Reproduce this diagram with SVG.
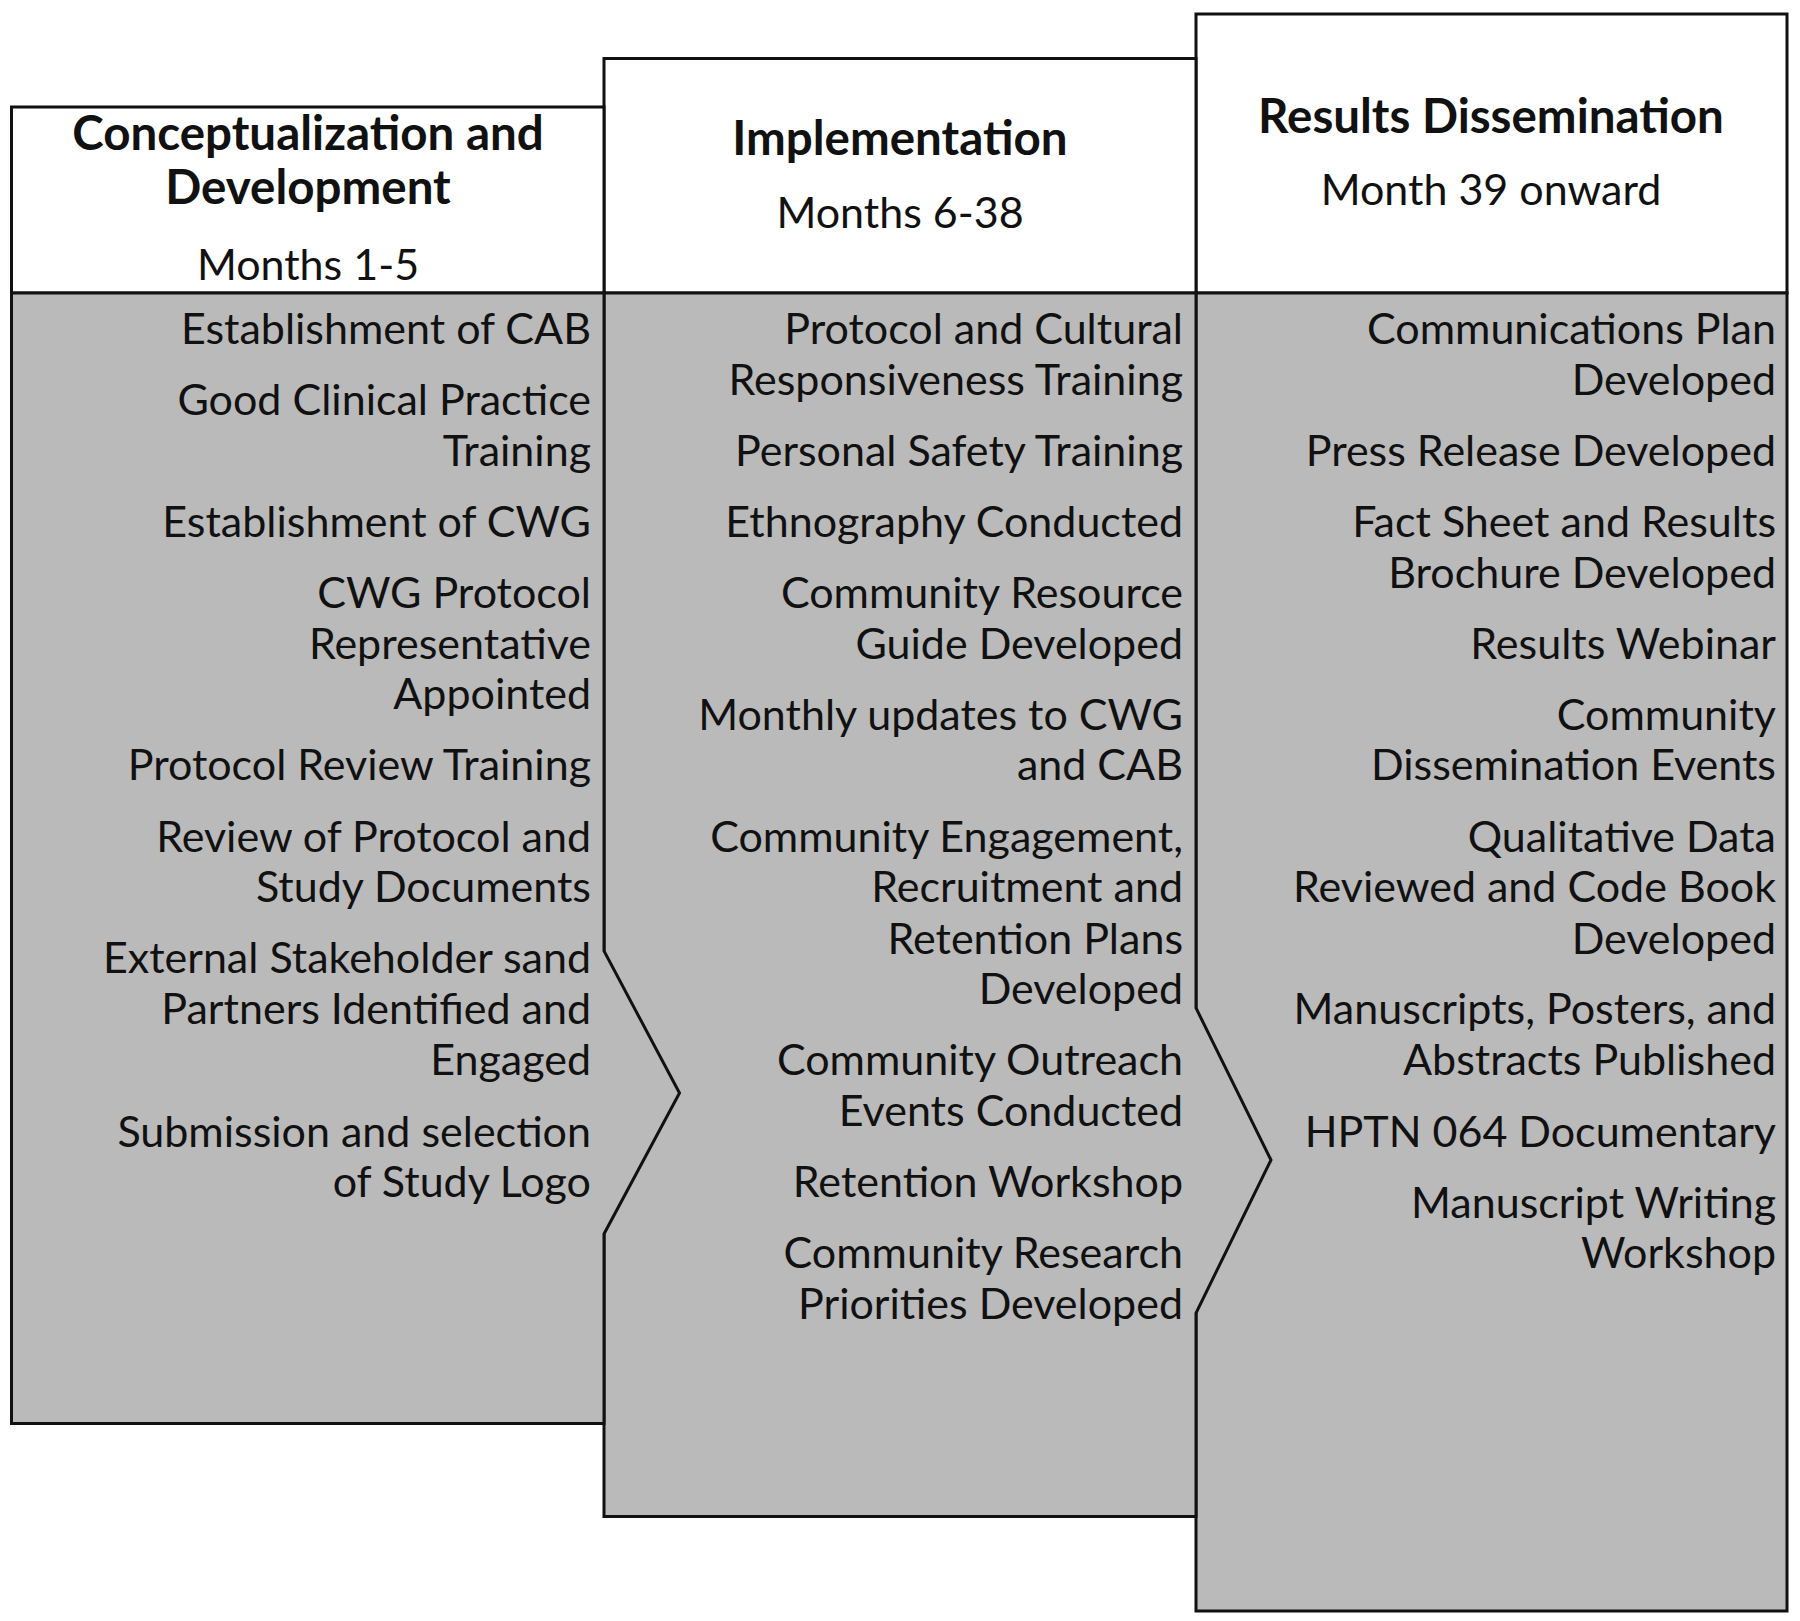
<svg xmlns="http://www.w3.org/2000/svg" width="1800" height="1621" viewBox="0 0 1800 1621">
<style>
.hdr{fill:#ffffff;stroke:#111;stroke-width:3}
.body{fill:#bababa;stroke:#111;stroke-width:3;stroke-linejoin:miter}
.t{font-family:Lato,"Open Sans",sans-serif;font-size:43px;fill:#111;text-anchor:end}
.h{font-family:Lato,"Open Sans",sans-serif;font-size:47.5px;font-weight:bold;fill:#111;text-anchor:middle}
.s{font-family:Lato,"Open Sans",sans-serif;font-size:43px;fill:#111;text-anchor:middle}
</style>
<rect x="0" y="0" width="1800" height="1621" fill="#ffffff"/>
<g id="col3">
<rect class="hdr" x="1196" y="14" width="591" height="279"/>
<rect class="body" x="1196" y="293" width="591" height="1318"/>
<text class="h" x="1491" y="133">Results Dissemination</text>
<text class="s" x="1491" y="205">Month 39 onward</text>
<text class="t" x="1776" y="344">Communications Plan</text>
<text class="t" x="1776" y="395">Developed</text>
<text class="t" x="1776" y="466">Press Release Developed</text>
<text class="t" x="1776" y="537">Fact Sheet and Results</text>
<text class="t" x="1776" y="588">Brochure Developed</text>
<text class="t" x="1776" y="659">Results Webinar</text>
<text class="t" x="1776" y="730">Community</text>
<text class="t" x="1776" y="780">Dissemination Events</text>
<text class="t" x="1776" y="852">Qualitative Data</text>
<text class="t" x="1776" y="902">Reviewed and Code Book</text>
<text class="t" x="1776" y="954">Developed</text>
<text class="t" x="1776" y="1024">Manuscripts, Posters, and</text>
<text class="t" x="1776" y="1075">Abstracts Published</text>
<text class="t" x="1776" y="1147">HPTN 064 Documentary</text>
<text class="t" x="1776" y="1218">Manuscript Writing</text>
<text class="t" x="1776" y="1268">Workshop</text>
</g>
<g id="col2">
<rect class="hdr" x="604" y="58.5" width="592" height="234.5"/>
<path class="body" d="M604,293 H1196 V1008 L1271,1160 L1196,1313 V1516.5 H604 Z"/>
<text class="h" x="900" y="155">Implementation</text>
<text class="s" x="900" y="228">Months 6-38</text>
<text class="t" x="1183" y="344">Protocol and Cultural</text>
<text class="t" x="1183" y="395">Responsiveness Training</text>
<text class="t" x="1183" y="466">Personal Safety Training</text>
<text class="t" x="1183" y="537">Ethnography Conducted</text>
<text class="t" x="1183" y="608">Community Resource</text>
<text class="t" x="1183" y="659">Guide Developed</text>
<text class="t" x="1183" y="730">Monthly updates to CWG</text>
<text class="t" x="1183" y="780">and CAB</text>
<text class="t" x="1183" y="852">Community Engagement,</text>
<text class="t" x="1183" y="902">Recruitment and</text>
<text class="t" x="1183" y="954">Retention Plans</text>
<text class="t" x="1183" y="1004">Developed</text>
<text class="t" x="1183" y="1075">Community Outreach</text>
<text class="t" x="1183" y="1126">Events Conducted</text>
<text class="t" x="1183" y="1197">Retention Workshop</text>
<text class="t" x="1183" y="1268">Community Research</text>
<text class="t" x="1183" y="1319">Priorities Developed</text>
</g>
<g id="col1">
<rect class="hdr" x="11.5" y="107" width="592.5" height="186"/>
<path class="body" d="M11.5,293 H604 V951 L679.5,1093 L604,1234 V1423.5 H11.5 Z"/>
<text class="h" x="308" y="150">Conceptualization and</text>
<text class="h" x="308" y="204">Development</text>
<text class="s" x="308" y="280">Months 1-5</text>
<text class="t" x="591" y="344">Establishment of CAB</text>
<text class="t" x="591" y="415">Good Clinical Practice</text>
<text class="t" x="591" y="466">Training</text>
<text class="t" x="591" y="537">Establishment of CWG</text>
<text class="t" x="591" y="608">CWG Protocol</text>
<text class="t" x="591" y="659">Representative</text>
<text class="t" x="591" y="709">Appointed</text>
<text class="t" x="591" y="780">Protocol Review Training</text>
<text class="t" x="591" y="852">Review of Protocol and</text>
<text class="t" x="591" y="902">Study Documents</text>
<text class="t" x="591" y="973">External Stakeholder sand</text>
<text class="t" x="591" y="1024">Partners Identified and</text>
<text class="t" x="591" y="1075">Engaged</text>
<text class="t" x="591" y="1147">Submission and selection</text>
<text class="t" x="591" y="1197">of Study Logo</text>
</g>
</svg>
